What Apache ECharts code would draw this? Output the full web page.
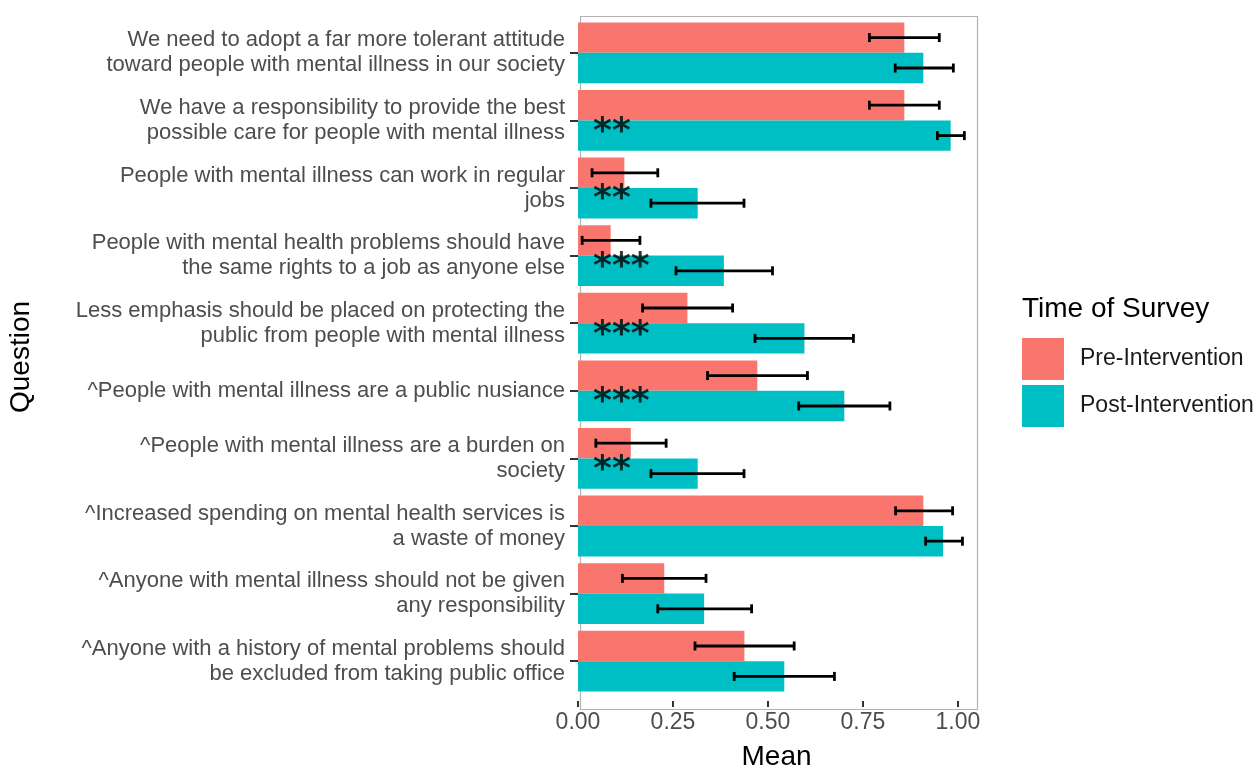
<!DOCTYPE html>
<html><head><meta charset="utf-8">
<script src="https://cdn.jsdelivr.net/npm/echarts@6/dist/echarts.min.js"></script>
<style>html,body{margin:0;padding:0;background:#fff}#c{width:1258px;height:776px}</style>
</head><body><div id="c"></div>
<script>
const questions = [
  "We need to adopt a far more tolerant attitude\ntoward people with mental illness in our society",
  "We have a responsibility to provide the best\npossible care for people with mental illness",
  "People with mental illness can work in regular\njobs",
  "People with mental health problems should have\nthe same rights to a job as anyone else",
  "Less emphasis should be placed on protecting the\npublic from people with mental illness",
  "^People with mental illness are a public nusiance",
  "^People with mental illness are a burden on\nsociety",
  "^Increased spending on mental health services is\na waste of money",
  "^Anyone with mental illness should not be given\nany responsibility",
  "^Anyone with a history of mental problems should\nbe excluded from taking public office"
];
const preMean  = [0.859, 0.859, 0.122, 0.086, 0.288, 0.472, 0.139, 0.909, 0.227, 0.438];
const preLow   = [0.767, 0.767, 0.037, 0.011, 0.170, 0.341, 0.047, 0.836, 0.117, 0.308];
const preHigh  = [0.951, 0.951, 0.210, 0.163, 0.407, 0.604, 0.232, 0.986, 0.337, 0.569];
const postMean = [0.909, 0.981, 0.315, 0.384, 0.596, 0.701, 0.315, 0.961, 0.332, 0.543];
const postLow  = [0.835, 0.946, 0.192, 0.258, 0.466, 0.581, 0.192, 0.915, 0.210, 0.411];
const postHigh = [0.988, 1.017, 0.437, 0.512, 0.725, 0.821, 0.437, 1.012, 0.457, 0.675];
const significance = ["", "**", "**", "***", "***", "***", "**", "", "", ""];
const xTicks = [0, 0.25, 0.5, 0.75, 1.0];
const seriesNames = ["Pre-Intervention", "Post-Intervention"];
const legendTitle = "Time of Survey";

const RED = "#F8766D", TEAL = "#00BFC4";
const chart = echarts.init(document.getElementById('c'), null, {renderer: 'canvas'});

const errData = [];
questions.forEach((q, i) => {
  errData.push([i, preLow[i], preHigh[i], -1]);
  errData.push([i, postLow[i], postHigh[i], 1]);
});
const sigData = [];
significance.forEach((s, i) => { if (s) sigData.push([0.045, i, s]); });

const FONT = "Liberation Sans";
chart.setOption({
  animation: false,
  textStyle: {fontFamily: FONT},
  grid: {left: 578, right: 283, top: 19, bottom: 75, show: false, containLabel: false},
  legend: {
    data: seriesNames, orient: 'vertical', left: 1022, top: 338, padding: 0,
    itemWidth: 42, itemHeight: 42, itemGap: 5, icon: 'rect',
    textStyle: {fontSize: 23, color: '#1a1a1a', padding: [0, 0, 0, 11], fontFamily: FONT}
  },
  graphic: [
    {type: 'text', left: 1022, top: 295, style: {text: legendTitle, fontSize: 28, fill: '#000', fontFamily: FONT}},
    {type: 'rect', left: 578, top: 14, shape: {width: 397, height: 693}, style: {fill: 'none', stroke: '#b3b3b3', lineWidth: 1.2}, z: -1}
  ],
  xAxis: {
    type: 'value', min: 0, max: 1.045, offset: 6,
    name: 'Mean', nameLocation: 'middle', nameGap: 42,
    nameTextStyle: {fontSize: 28, color: '#000', fontFamily: FONT},
    axisLine: {show: false},
    axisTick: {show: true, length: 6, lineStyle: {color: '#333', width: 2}, customValues: xTicks},
    axisLabel: {fontSize: 23, color: '#4d4d4d', margin: 10, customValues: xTicks, formatter: v => v.toFixed(2)},
    splitLine: {show: false}
  },
  yAxis: {
    type: 'category', data: questions, inverse: true,
    name: 'Question', nameLocation: 'middle', nameGap: 543, nameRotate: 90,
    nameTextStyle: {fontSize: 28, color: '#000', fontFamily: FONT},
    axisLine: {show: false},
    axisTick: {show: true, alignWithLabel: true, length: 8, lineStyle: {color: '#333', width: 2}},
    axisLabel: {fontSize: 22, color: '#4d4d4d', margin: 13, lineHeight: 25, align: 'right'},
    splitLine: {show: false}
  },
  series: [
    {name: seriesNames[0], type: 'bar', data: preMean, itemStyle: {color: RED}, barGap: '0%', barCategoryGap: '10%'},
    {name: seriesNames[1], type: 'bar', data: postMean, itemStyle: {color: TEAL}, barGap: '0%', barCategoryGap: '10%'},
    {
      type: 'custom', name: 'err', data: errData, encode: {x: [1, 2], y: 0}, z: 5,
      renderItem: (params, api) => {
        const cat = api.value(0), lo = api.value(1), hi = api.value(2), sign = api.value(3);
        const band = api.size([0, 1])[1];
        const p1 = api.coord([lo, cat]), p2 = api.coord([hi, cat]);
        const y = p1[1] + sign * band * 0.9 / 4;
        const cap = 4.5;
        const st = {stroke: '#000', lineWidth: 2.8};
        return {type: 'group', children: [
          {type: 'line', shape: {x1: p1[0], y1: y, x2: p2[0], y2: y}, style: st},
          {type: 'line', shape: {x1: p1[0], y1: y - cap, x2: p1[0], y2: y + cap}, style: st},
          {type: 'line', shape: {x1: p2[0], y1: y - cap, x2: p2[0], y2: y + cap}, style: st}
        ]};
      }
    },
    {
      type: 'scatter', name: 'sig', data: sigData, symbolSize: 0, z: 6,
      label: {show: true, position: 'right', distance: 0, formatter: p => p.value[2],
        fontSize: 36, fontWeight: 'bold', color: '#000', fontFamily: 'DejaVu Sans', offset: [-2, 12]}
    }
  ]
});
</script></body></html>
